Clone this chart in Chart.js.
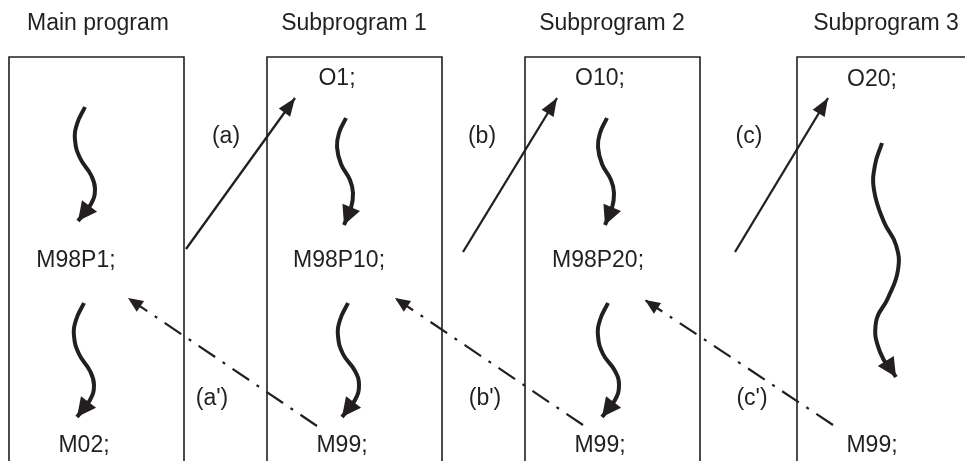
<!DOCTYPE html>
<html>
<head>
<meta charset="utf-8">
<script src="https://cdn.jsdelivr.net/npm/chart.js@4/dist/chart.umd.min.js"></script>
<style>
    html, body { margin: 0; padding: 0; background: #ffffff; }
    #wrap { width: 965px; height: 461px; }
</style>
</head>
<body>
<div id="wrap"><canvas id="flowChart" width="965" height="461"></canvas></div>
<script>
// Subprogram call flow (M98 / M99)

// program boxes (open at the bottom)
const boxLeft = [9, 267, 525, 797];
const boxRight = [184, 442, 700, 990];
const boxTop = 57;
const boxBottom = 470;

// titles above boxes
const titleText = ['Main program', 'Subprogram 1', 'Subprogram 2', 'Subprogram 3'];
const titleX = [98, 354, 612, 886];
const titleY = 30;

// code lines inside the boxes
const codeText = ['O1;', 'O10;', 'O20;', 'M98P1;', 'M98P10;', 'M98P20;', 'M02;', 'M99;', 'M99;', 'M99;'];
const codeX = [337, 600, 872, 76, 339, 598, 84, 342, 600, 872];
const codeY = [85, 85, 86, 267, 267, 267, 452, 452, 452, 452];

// step labels
const stepText = ['(a)', '(b)', '(c)', "(a')", "(b')", "(c')"];
const stepX = [226, 482, 749, 212, 485, 752];
const stepY = [143, 143, 143, 405, 405, 405];

// call arrows (solid) and return arrows (dash-dot): tail -> tip
const callFrom = [[186, 249], [463, 252], [735, 252]];
const callTo = [[295, 98], [557, 98], [828, 98]];
const returnFrom = [[317, 426], [583, 425], [833, 425]];
const returnTo = [[128, 298], [395, 298], [645, 300]];

// wavy "program runs" strokes, top to bottom
const waves = [
    [[85, 107], [77, 124], [75, 140], [80, 158], [91, 175], [95, 189], [91, 204], [78, 221]],
    [[84, 303], [76, 320], [74, 336], [79, 354], [90, 371], [94, 385], [90, 400], [77, 417]],
    [[346, 118], [339, 133], [337, 147], [341, 164], [350, 180], [353, 193], [351, 208], [344, 225]],
    [[348, 303], [340, 320], [338, 336], [343, 354], [355, 371], [359, 385], [355, 400], [342, 417]],
    [[607, 118], [600, 133], [598, 147], [602, 164], [611, 180], [614, 193], [612, 208], [605, 225]],
    [[608, 303], [600, 320], [598, 336], [603, 354], [615, 371], [619, 385], [615, 400], [602, 417]],
    [[882, 143], [875, 165], [874, 190], [884, 222], [896, 245], [898, 270], [888, 298], [876, 322], [880, 352], [896, 377]]
];

const ink = '#231f20';
const font = '23px "Liberation Sans", Arial, Helvetica, sans-serif';

function pts(list) {
    return list.map(p => ({ x: p[0], y: p[1] }));
}

function buildDatasets() {
    const sets = [];
    boxLeft.forEach((l, i) => {
        sets.push({
            data: pts([[l, boxBottom], [l, boxTop], [boxRight[i], boxTop], [boxRight[i], boxBottom]]),
            borderColor: ink, borderWidth: 1.6, pointRadius: 0, tension: 0
        });
    });
    callFrom.forEach((p, i) => {
        sets.push({
            data: pts([p, callTo[i]]),
            borderColor: ink, borderWidth: 2.3, pointRadius: 0, tension: 0,
            arrow: { len: 18, half: 7 }
        });
    });
    returnFrom.forEach((p, i) => {
        sets.push({
            data: pts([p, returnTo[i]]),
            borderColor: ink, borderWidth: 2.2, pointRadius: 0, tension: 0,
            borderDash: [20, 9, 3, 9],
            arrow: { len: 15, half: 6.5 }
        });
    });
    waves.forEach(w => {
        sets.push({
            data: pts(w),
            borderColor: ink, borderWidth: 4, pointRadius: 0, tension: 0.45,
            borderCapStyle: 'butt',
            arrow: { len: 19, half: 9.5 }
        });
    });
    return sets;
}

// arrowheads at the last point of a dataset
const arrowHeads = {
    id: 'arrowHeads',
    afterDatasetsDraw(chart) {
        const ctx = chart.ctx;
        chart.data.datasets.forEach((ds, i) => {
            if (!ds.arrow) return;
            const el = chart.getDatasetMeta(i).data;
            const a = el[el.length - 2], b = el[el.length - 1];
            const ang = Math.atan2(b.y - a.y, b.x - a.x);
            const bx = b.x - ds.arrow.len * Math.cos(ang);
            const by = b.y - ds.arrow.len * Math.sin(ang);
            const nx = -Math.sin(ang) * ds.arrow.half, ny = Math.cos(ang) * ds.arrow.half;
            ctx.save();
            ctx.fillStyle = ink;
            ctx.beginPath();
            ctx.moveTo(b.x, b.y);
            ctx.lineTo(bx + nx, by + ny);
            ctx.lineTo(bx - nx, by - ny);
            ctx.closePath();
            ctx.fill();
            ctx.restore();
        });
    }
};

// all the text, placed through the scales
const labels = {
    id: 'labels',
    afterDraw(chart) {
        const ctx = chart.ctx;
        const xs = chart.scales.x, ys = chart.scales.y;
        const put = (t, x, y) => ctx.fillText(t, xs.getPixelForValue(x), ys.getPixelForValue(y));
        ctx.save();
        ctx.font = font;
        ctx.fillStyle = ink;
        ctx.textAlign = 'center';
        ctx.textBaseline = 'alphabetic';
        titleText.forEach((t, i) => put(t, titleX[i], titleY));
        codeText.forEach((t, i) => put(t, codeX[i], codeY[i]));
        stepText.forEach((t, i) => put(t, stepX[i], stepY[i]));
        ctx.restore();
    }
};

new Chart(document.getElementById('flowChart').getContext('2d'), {
    type: 'scatter',
    data: { datasets: buildDatasets() },
    options: {
        responsive: false,
        animation: false,
        showLine: true,
        layout: { padding: 0 },
        plugins: { legend: { display: false }, tooltip: { enabled: false } },
        scales: {
            x: { type: 'linear', min: 0, max: 965, display: false },
            y: { type: 'linear', min: 0, max: 461, reverse: true, display: false }
        }
    },
    plugins: [arrowHeads, labels]
});
</script>
</body>
</html>
